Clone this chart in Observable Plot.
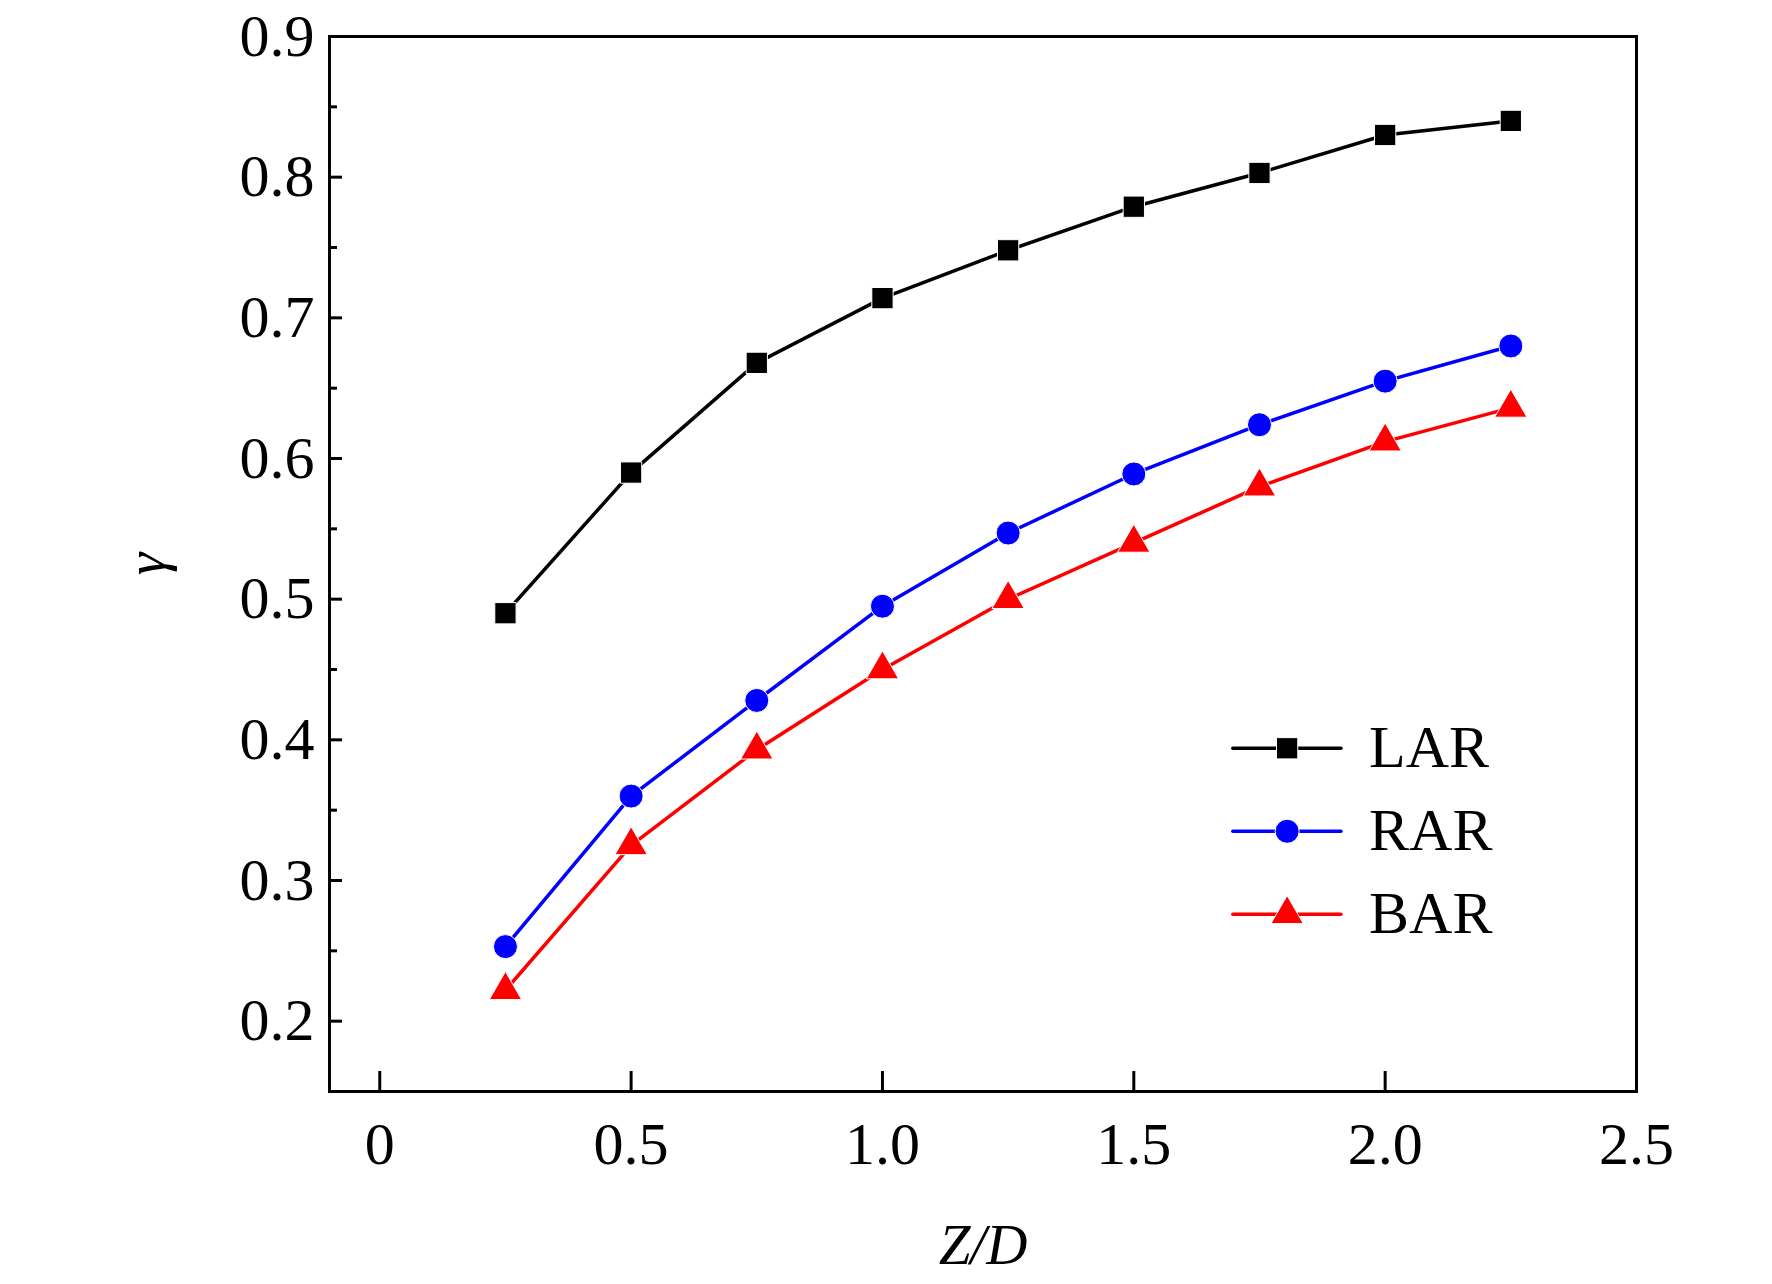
<!DOCTYPE html><html><head><meta charset="utf-8">
<script src="https://cdn.jsdelivr.net/npm/d3@7"></script>
<script src="https://cdn.jsdelivr.net/npm/@observablehq/plot@0.6"></script>
<style>body{margin:0;background:#fff}svg{font-family:"Liberation Serif",serif}</style></head><body><div id="c"></div><script>
const zd=[0.25,0.5,0.75,1.0,1.25,1.5,1.75,2.0,2.25];
const LAR=[0.49,0.59,0.668,0.714,0.748,0.779,0.803,0.83,0.84];
const RAR=[0.253,0.36,0.428,0.495,0.547,0.589,0.624,0.655,0.68];
const BAR=[0.222,0.325,0.393,0.45,0.5,0.54,0.58,0.612,0.636];
const series=[{name:"LAR",vals:LAR,color:"#000",sym:"square",r:12,ly:0.394},
{name:"RAR",vals:RAR,color:"#0000ff",sym:"circle",r:12,ly:0.335},
{name:"BAR",vals:BAR,color:"#ff0000",sym:"triangle",r:12,ly:0.276}];
const xTicks=[0,0.5,1.0,1.5,2.0,2.5];
const yTicks=[0.2,0.3,0.4,0.5,0.6,0.7,0.8,0.9];
const yMinor=[0.25,0.35,0.45,0.55,0.65,0.75,0.85];
const legX=[1.697,1.912], legM=1.805, legT=1.968;
const marks=[Plot.frame({strokeWidth:3})];
for(const s of series){
 const d=zd.map((x,i)=>({x,y:s.vals[i]}));
 marks.push(Plot.line(d,{x:"x",y:"y",stroke:s.color,strokeWidth:3.5}));
 marks.push(Plot.dot(d,{x:"x",y:"y",symbol:()=>s.sym,r:s.r,fill:s.color,stroke:"#fff",strokeWidth:1}));
 marks.push(Plot.line([{x:legX[0],y:s.ly},{x:legX[1],y:s.ly}],{x:"x",y:"y",stroke:s.color,strokeWidth:3.5}));
 marks.push(Plot.dot([{x:legM,y:s.ly}],{x:"x",y:"y",symbol:()=>s.sym,r:s.r,fill:s.color,stroke:"#fff",strokeWidth:1}));
 marks.push(Plot.text([{x:legT,y:s.ly,t:s.name}],{x:"x",y:"y",text:"t",textAnchor:"start",fontSize:60,fill:"#000"}));
}
marks.push(Plot.axisX({ticks:xTicks,tickSize:-20,tickPadding:50,strokeWidth:3,fontSize:60,tickFormat:d=>d===0?"0":d.toFixed(1),label:"Z/D",labelArrow:"none",labelAnchor:"center",labelOffset:172}));
marks.push(Plot.axisY({ticks:yTicks,tickSize:-13,tickPadding:28,strokeWidth:3,fontSize:60,tickFormat:d=>d.toFixed(1),label:"γ",labelArrow:"none",labelAnchor:"center",labelOffset:205}));
marks.push(Plot.axisY({ticks:yMinor,tickSize:-8,strokeWidth:3,tickFormat:()=>"",label:null}));
const p=Plot.plot({width:1772,height:1284,marginLeft:329,marginRight:136,marginTop:36,marginBottom:193,
 x:{domain:[-0.1,2.5]},y:{domain:[0.15,0.9]},style:{fontSize:"60px",fontFamily:"Liberation Serif"},marks});
d3.select(p).selectAll("[aria-label='x-axis label'] text,[aria-label='y-axis label'] text").style("font-style","italic").style("font-size","57px");
document.getElementById("c").append(p);
</script></body></html>
